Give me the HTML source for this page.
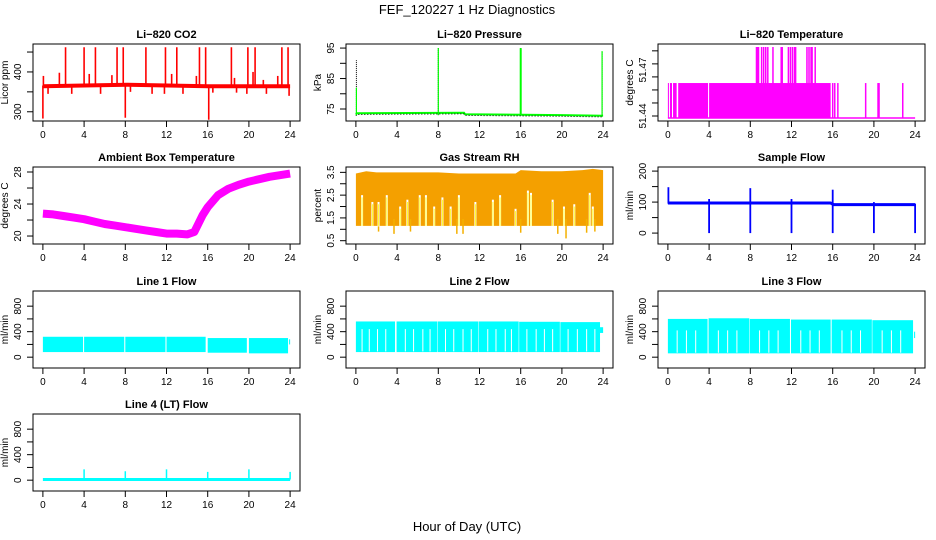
<!DOCTYPE html>
<html><head><meta charset="utf-8"><style>
html,body{margin:0;padding:0;background:#fff;}
svg{display:block;font-family:"Liberation Sans",Arial,sans-serif;}
</style></head><body>
<svg id="chart" width="936" height="540" viewBox="0 0 936 540" xmlns="http://www.w3.org/2000/svg">
<rect x="0" y="0" width="936" height="540" fill="#fff"/>
<text x="467" y="14" text-anchor="middle" font-size="13">FEF_120227  1 Hz Diagnostics</text>
<text x="467" y="531" text-anchor="middle" font-size="13">Hour of Day (UTC)</text>
</svg>
<script>
// ---------- data ----------
const xTicks=[0,4,8,12,16,20,24];
// CO2
const co2BaseHours=[0,4,8.2,16,24];
const co2BaseVals=[364,366,368,364,364];
const co2SpikeHours=[0.05,2.2,4.0,5.1,7.2,7.8,10.0,11.9,13.0,15.2,15.8,18.3,19.9,20.6,23.2,23.8,1.6,4.5,6.7,12.5,14.9,18.6,20.4,21.4,22.8,0.0,0.5,2.8,5.6,8.0,8.5,10.6,11.8,13.6,16.1,16.5,18.8,19.8,21.7,23.9];
const co2SpikeVals=[390,462,462,462,462,462,462,462,462,462,462,462,462,462,462,462,398,395,392,395,390,385,400,380,390,283,345,345,345,285,350,345,345,345,280,348,348,345,345,340];
// Pressure
const presBaseHours=[0,0.1,10.5,10.6,20,24];
const presBaseVals=[73.2,73.6,73.8,73.3,73.0,72.8];
const presSpikeHours=[0.05,8.0,16.0,23.9];
const presSpikeVals=[91,95,95,94];
// Li-820 Temperature
const tempBase=51.4387, tempMid=51.4615, tempTop=51.485;
const tempFillStart=[0.0,0.2,0.5,1.0,4.0];
const tempFillEnd=[0.1,0.4,0.85,3.9,15.8];
const tempMidSpikes=[16.0,16.2,16.5,19.2,20.4,20.5,22.8];
const tempTopSpikes=[8.6,8.7,8.8,9.1,9.3,9.5,9.7,10.2,11.0,11.1,11.7,11.9,12.1,12.3,12.4,13.5,13.7,13.9,14.0,14.3];
// Ambient box temperature
const ambHours=[0,1,2,3,4,5,6,7,8,9,10,11,12,13,14,14.7,15.5,16,17,18,19,20,21,22,23,24];
const ambVals=[22.8,22.7,22.5,22.3,22.1,21.8,21.5,21.3,21.1,20.9,20.7,20.5,20.3,20.3,20.2,20.5,22.6,23.6,25.1,25.9,26.4,26.8,27.1,27.4,27.6,27.8];
// Gas stream RH
const rhTopHours=[0,1,2,4,6,8,10,12,14,15.5,16,18,20,22,23,24];
const rhTopVals=[3.45,3.55,3.5,3.5,3.5,3.5,3.45,3.45,3.45,3.45,3.6,3.55,3.55,3.6,3.65,3.6];
const rhBottom=1.15;
const rhGapHours=[0.6,1.6,2.2,3.0,4.3,5.0,6.2,6.8,7.6,8.4,9.2,10.0,11.6,13.3,14.0,15.5,16.7,17.0,19.1,20.2,21.2,22.7,23.0];
const rhGapTops=[2.5,2.2,2.2,2.5,2.0,2.3,2.5,2.5,2.0,2.4,2.0,2.5,2.2,2.3,2.5,1.9,2.7,2.6,2.3,2.0,2.1,2.6,2.0];
const rhDipHours=[2.2,3.7,5.3,9.8,10.4,16.0,19.6,20.4,22.4,23.2];
const rhDipVals=[0.9,0.8,0.9,0.8,0.8,0.85,0.8,0.6,0.85,0.9];
// Sample flow
const sfBaseHours=[0,0.2,15.8,16.1,24];
const sfBaseVals=[97,97,97,92,92];
const sfEventHours=[0.05,4,8,12,16,20,24];
const sfEventMin=[95,0,0,0,0,0,0];
const sfEventMax=[148,110,145,110,140,100,95];
// Line flows: blocks [start,end,low,high]
const l1Start=[0.0,4.0,8.0,12.0,16.0,20.0,23.9];
const l1End=[3.9,7.9,11.9,15.8,19.8,23.8,24.0];
const l1Low=[80,80,80,80,70,60,200];
const l1High=[320,320,320,320,300,300,280];
const l2Start=[0.0,3.95,7.95,11.95,15.85,19.85,23.7];
const l2End=[3.8,7.9,11.9,15.8,19.8,23.7,24.0];
const l2Low=[80,80,80,80,80,80,380];
const l2High=[560,560,560,560,555,550,470];
const l3Start=[0.0,3.95,7.95,11.95,15.9,19.85,23.9];
const l3End=[3.85,7.9,11.85,15.8,19.8,23.8,24.0];
const l3Low=[60,60,60,60,60,60,300];
const l3High=[600,610,600,590,590,580,400];
const l2Stripes=[0.6,1.3,2.1,2.9,4.8,5.6,6.5,7.2,8.7,9.5,10.4,11.2,12.8,13.6,14.5,15.1,16.6,17.5,18.3,19.1,20.6,21.5,22.4,23.2];
const l3Stripes=[0.9,1.8,2.7,4.9,5.8,6.7,8.9,9.8,10.7,12.9,13.8,14.7,16.9,17.8,18.7,20.8,21.7,22.6];
// Line 4 flow
const l4Base=10;
const l4SpikeHours=[4,8,12,16,20,24];
const l4SpikeVals=[170,140,170,130,170,130];

// ---------- drawing ----------
const svg=document.getElementById('chart');
const NS='http://www.w3.org/2000/svg';
function add(tag,attrs,name){
  const e=document.createElementNS(NS,tag);
  for(const k in attrs) e.setAttribute(k,attrs[k]);
  
  
  svg.appendChild(e);
  return e;
}
const colLeft=[33,346,658], rowTop=[44,167,291,414], PW=267, PH=77;
function mkPanel(c,r,ylo,yhi){
  const left=colLeft[c], top=rowTop[r];
  const ix0=left+PW*0.04/1.08, iw=PW/1.08;
  const iy0=top+PH-PH*0.04/1.08, ih=PH/1.08;
  return {left,top,X:h=>ix0+h/24*iw,Y:v=>iy0-(v-ylo)/(yhi-ylo)*ih};
}
function axes(p,title,ylab,ticks,labels,slug){
  add('text',{x:p.left+PW/2,y:p.top-6,'text-anchor':'middle','font-size':11,'font-weight':'bold'},slug+'-title').textContent=title;
  const b=p.top+PH;
  xTicks.forEach(t=>{
    add('line',{x1:p.X(t),x2:p.X(t),y1:b,y2:b+6,stroke:'#000'},slug+'-x-tick');
    add('text',{x:p.X(t),y:b+17,'text-anchor':'middle','font-size':10},slug+'-x-tick-label').textContent=t;
  });
  add('line',{x1:p.X(0),x2:p.X(24),y1:b,y2:b,stroke:'#000'},slug+'-x-axis');
  ticks.forEach(t=>{
    add('line',{x1:p.left-6,x2:p.left,y1:p.Y(t),y2:p.Y(t),stroke:'#000'},slug+'-y-tick');
  });
  labels.forEach(t=>{
    const x=p.left-12,y=p.Y(t);
    add('text',{x:x,y:y,'text-anchor':'middle','font-size':10,transform:`rotate(-90 ${x} ${y})`},slug+'-y-tick-label').textContent=t;
  });
  const lx=p.left-25,ly=p.top+PH/2;
  add('text',{x:lx,y:ly,'text-anchor':'middle','font-size':10,transform:`rotate(-90 ${lx} ${ly})`},slug+'-y-axis-title').textContent=ylab;
}
function box(p,slug){add('rect',{x:p.left,y:p.top,width:PW,height:PH,fill:'none',stroke:'#000'},slug+'-frame');}
function vline(p,h,v1,v2,col,w,name){return add('line',{x1:p.X(h),x2:p.X(h),y1:p.Y(v1),y2:p.Y(v2),stroke:col,'stroke-width':w},name);}
function poly(p,hs,vs,col,w,name,extra){
  const pts=hs.map((h,i)=>p.X(h).toFixed(1)+','+p.Y(vs[i]).toFixed(1)).join(' ');
  const a={points:pts,fill:'none',stroke:col,'stroke-width':w};
  if(extra) for(const k in extra) a[k]=extra[k];
  return add('polyline',a,name);
}

// CO2
let p=mkPanel(0,0,284,463);
poly(p,co2BaseHours,co2BaseVals,'#f00',4,'co2-baseline');
co2SpikeHours.forEach((h,i)=>{
  const base=co2BaseVals[0]+2;
  vline(p,h,base,co2SpikeVals[i],'#f00',1.6,'co2-spike');
});
axes(p,'Li\u2212820 CO2','Licor ppm',[300,350,400,450],[300,400],'co2');box(p,'co2');

// Pressure
p=mkPanel(1,0,72,95.4);
poly(p,presBaseHours,presBaseVals,'#0f0',2,'pressure-line');
poly(p,presBaseHours,presBaseVals.map(v=>v-0.4),'#000',1,'pressure-dotted-line',{'stroke-dasharray':'1,2'});
presSpikeHours.forEach((h,i)=>{
  const d=vline(p,h,73,presSpikeVals[i],'#000',1,'pressure-spike-dotted');
  d.setAttribute('stroke-dasharray','1,1');
  vline(p,h,73,i===0?82:presSpikeVals[i],'#0f0',i===2?2:1.2,'pressure-spike');
});
axes(p,'Li\u2212820 Pressure','kPa',[75,80,85,90,95],[75,85,95],'pressure');box(p,'pressure');

// Li-820 temperature
p=mkPanel(2,0,51.4386,51.4851);
add('line',{x1:p.X(0),x2:p.X(24),y1:p.Y(tempBase),y2:p.Y(tempBase),stroke:'#f0f','stroke-width':1.5},'temp-baseline');
tempFillStart.forEach((s,i)=>{
  add('rect',{x:p.X(s),y:p.Y(tempMid),width:p.X(tempFillEnd[i])-p.X(s),height:p.Y(tempBase)-p.Y(tempMid),fill:'#f0f'},'temp-fill-block');
});
tempMidSpikes.forEach(h=>vline(p,h,tempBase,tempMid,'#f0f',1.5,'temp-mid-spike'));
tempTopSpikes.forEach(h=>vline(p,h,tempBase,tempTop,'#f0f',1.5,'temp-top-spike'));
axes(p,'Li\u2212820 Temperature','degrees C',[51.44,51.4485,51.457,51.4655,51.474,51.4825],[51.44,51.47],'li820-temp');box(p,'li820-temp');

// Ambient
p=mkPanel(0,1,19.36,28.27);
poly(p,ambHours,ambVals,'#f0f',8,'ambient-temp-band',{'stroke-linejoin':'round'});
axes(p,'Ambient Box Temperature','degrees C',[20,22,24,26,28],[20,24,28],'ambient');box(p,'ambient');

// RH
p=mkPanel(1,1,0.48,3.61);
{
  const top=rhTopHours.map((h,i)=>p.X(h).toFixed(1)+','+p.Y(rhTopVals[i]).toFixed(1));
  const pts=top.concat([p.X(24).toFixed(1)+','+p.Y(rhBottom).toFixed(1),p.X(0).toFixed(1)+','+p.Y(rhBottom).toFixed(1)]).join(' ');
  add('polygon',{points:pts,fill:'#f4a000'},'rh-band');
}
rhDipHours.forEach((h,i)=>vline(p,h,rhBottom+0.3,rhDipVals[i],'#f4b000',1.5,'rh-dip'));
rhGapHours.forEach((h,i)=>{
  vline(p,h,rhBottom-0.02,rhGapTops[i],'#fff',2,'rh-gap');
  vline(p,h,rhBottom,rhGapTops[i]-0.1,'#ff0',0.8,'rh-gap-line');
});
axes(p,'Gas Stream RH','percent',[0.5,1,1.5,2,2.5,3,3.5],[0.5,1.5,2.5,3.5],'rh');box(p,'rh');

// Sample flow
p=mkPanel(2,1,-26,204);
poly(p,sfBaseHours,sfBaseVals,'#00f',3,'sample-flow-line');
sfEventHours.forEach((h,i)=>vline(p,h,sfEventMin[i],sfEventMax[i],'#00f',1.8,'sample-flow-event'));
axes(p,'Sample Flow','ml/min',[0,50,100,150,200],[0,100,200],'sample-flow');box(p,'sample-flow');

// Line flows
function blocks(p,st,en,lo,hi,slug){
  st.forEach((s,i)=>add('rect',{x:p.X(s),y:p.Y(hi[i]),width:p.X(en[i])-p.X(s),height:p.Y(lo[i])-p.Y(hi[i]),fill:'#0ff'},slug+'-block'));
}
const flowTicks=[0,200,400,600,800], flowLabels=[0,400,800];
p=mkPanel(0,2,-125,993);
blocks(p,l1Start,l1End,l1Low,l1High,'line1-flow');
axes(p,'Line 1 Flow','ml/min',flowTicks,flowLabels,'line1');box(p,'line1');
p=mkPanel(1,2,-125,993);
blocks(p,l2Start,l2End,l2Low,l2High,'line2-flow');
l2Stripes.forEach(h=>vline(p,h,90,440,'#fff',1,'line2-stripe'));
axes(p,'Line 2 Flow','ml/min',flowTicks,flowLabels,'line2');box(p,'line2');
p=mkPanel(2,2,-125,993);
blocks(p,l3Start,l3End,l3Low,l3High,'line3-flow');
l3Stripes.forEach(h=>vline(p,h,70,420,'#fff',1,'line3-stripe'));
axes(p,'Line 3 Flow','ml/min',flowTicks,flowLabels,'line3');box(p,'line3');
p=mkPanel(0,3,-125,993);
add('line',{x1:p.X(0),x2:p.X(24),y1:p.Y(l4Base),y2:p.Y(l4Base),stroke:'#0ff','stroke-width':3},'line4-baseline');
l4SpikeHours.forEach((h,i)=>vline(p,h,l4Base,l4SpikeVals[i],'#0ff',1.5,'line4-spike'));
axes(p,'Line 4 (LT) Flow','ml/min',flowTicks,flowLabels,'line4');box(p,'line4');
</script>
</body></html>
